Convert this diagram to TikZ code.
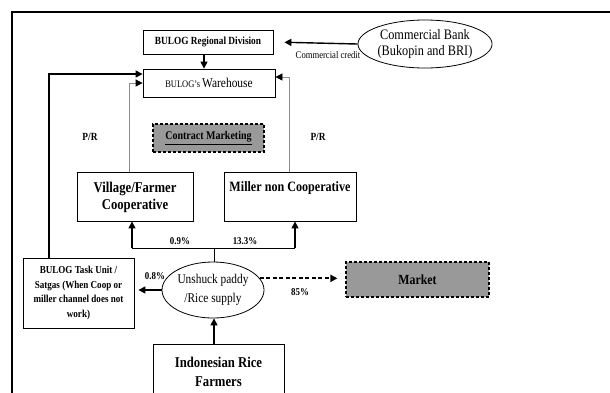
\documentclass[tikz,border=0pt]{standalone}
\usepackage{fontspec}
\setmainfont[FakeStretch=0.85]{Liberation Serif}
\usetikzlibrary{arrows.meta,shapes.geometric,calc}
\begin{document}
\begin{tikzpicture}[x=1bp,y=-1bp,
  box/.style={draw,line width=0.8bp,rectangle,inner sep=0pt},
  gbox/.style={box,fill=gray!80,dashed,line width=1.2bp,dash pattern=on 3bp off 2bp},
  arr/.style={line width=1.4bp,-{Triangle[length=7bp,width=7bp]}},
  garr/.style={draw=gray!90,line width=0.8bp,-{Triangle[length=7bp,width=7bp,color=black]}},
  lbl/.style={font=\bfseries\fontsize{10.5}{11}\selectfont,inner sep=0pt}]
\clip (0,0) rectangle (610,392);
\fill[white] (0,0) rectangle (610,392);
\draw[line width=2bp] (12,400) -- (12,12) -- (620,12);
% nodes
\node[box,minimum width=130bp,minimum height=24bp,font=\bfseries\fontsize{11}{12}\selectfont] (reg) at (208,42) {BULOG Regional Division};
\node[draw,ellipse,line width=0.8bp,minimum width=114bp,minimum height=48bp,inner sep=0pt,align=center,font=\fontsize{14.5}{17}\selectfont] (bank) at (425,44) {Commercial Bank\\(Bukopin and BRI)};
\node[box,minimum width=132bp,minimum height=28bp] (wh) at (209,83) {\fontsize{10}{11}\selectfont BULOG's \fontsize{13.5}{14}\selectfont Warehouse};
\node[gbox,minimum width=111bp,minimum height=28bp,font=\bfseries\fontsize{11.8}{13}\selectfont] (cm) at (208.5,138) {\underline{Contract Marketing}};
\node[box,minimum width=116bp,minimum height=49bp] (coop) at (135,196.5) {};
\node[align=center,inner sep=0pt,font=\bfseries\fontsize{15}{17}\selectfont] (cooptxt) at (135,197) {Village/Farmer\\Cooperative};
\node[box,minimum width=132bp,minimum height=49bp] (miller) at (290,196.5) {};
\node[inner sep=0pt,font=\bfseries\fontsize{14.3}{15}\selectfont] (millertxt) at (290,188) {Miller non Cooperative};
\node[box,minimum width=111bp,minimum height=70bp,align=center,font=\bfseries\fontsize{10.7}{14.8}\selectfont] (task) at (78.5,293) {BULOG Task Unit /\\Satgas (When Coop or\\miller channel does not\\work)};
\node[draw,ellipse,line width=0.8bp,minimum width=102bp,minimum height=56bp,inner sep=0pt,align=center,font=\fontsize{13.4}{18.5}\selectfont] (ell) at (213,290) {Unshuck paddy\\/Rice supply};
\node[gbox,minimum width=143bp,minimum height=35bp,font=\bfseries\fontsize{14}{15}\selectfont] (market) at (417.5,279.5) {Market};
\node[box,minimum width=131bp,minimum height=70bp,anchor=north] (farm) at (218.5,344) {};
\node[align=center,inner sep=0pt,font=\bfseries\fontsize{15}{19}\selectfont] (farmtxt) at (218.5,372) {Indonesian Rice\\Farmers};
% labels
\node[lbl,font=\bfseries\fontsize{11}{12}\selectfont] (pr1) at (90,137) {P/R};
\node[lbl,font=\bfseries\fontsize{11}{12}\selectfont] (pr2) at (318,137) {P/R};
\node[lbl] (p09) at (180,241) {0.9\%};
\node[lbl] (p133) at (245,241) {13.3\%};
\node[lbl] (p08) at (155,276) {0.8\%};
\node[lbl] (p85) at (300,292) {85\%};
\node[inner sep=0pt,font=\fontsize{10.2}{11}\selectfont] (cc) at (328,55) {Commercial credit};
% connectors
\draw[arr,shorten >=11bp] (bank.west) -- (reg.east);
\draw[arr] (reg.south -| 204,0) -- (wh.north -| 204,0);
\coordinate (lx) at (49,258);
\draw[arr] (task.north -| lx) -- (49,74) -- (wh.west |- 0,74);
\draw[garr] (coop.north -| 129,0) -- (129,83) -- (wh.west |- 0,83);
\draw[garr] (miller.north -| 289,0) -- (289,77) -- (wh.east |- 0,77);
\coordinate (br) at (214,248);
\draw[line width=1bp] (ell.north -| br) -- (br);
\draw[line width=1bp] (132,248) -- (295,248);
\draw[arr] (132,248) -- (coop.south -| 132,0);
\draw[arr] (295,248) -- (miller.south -| 295,0);
\draw[arr,shorten >=4bp] (ell.west) -- (task.east |- ell.west);
\draw[arr,line width=1.8bp,dash pattern=on 4bp off 2.5bp,shorten >=8bp] (ell.14) -- (market.west |- ell.14);
\draw[arr] (farm.north -| 214,0) -- (ell.south -| 214,0);
\end{tikzpicture}
\end{document}
